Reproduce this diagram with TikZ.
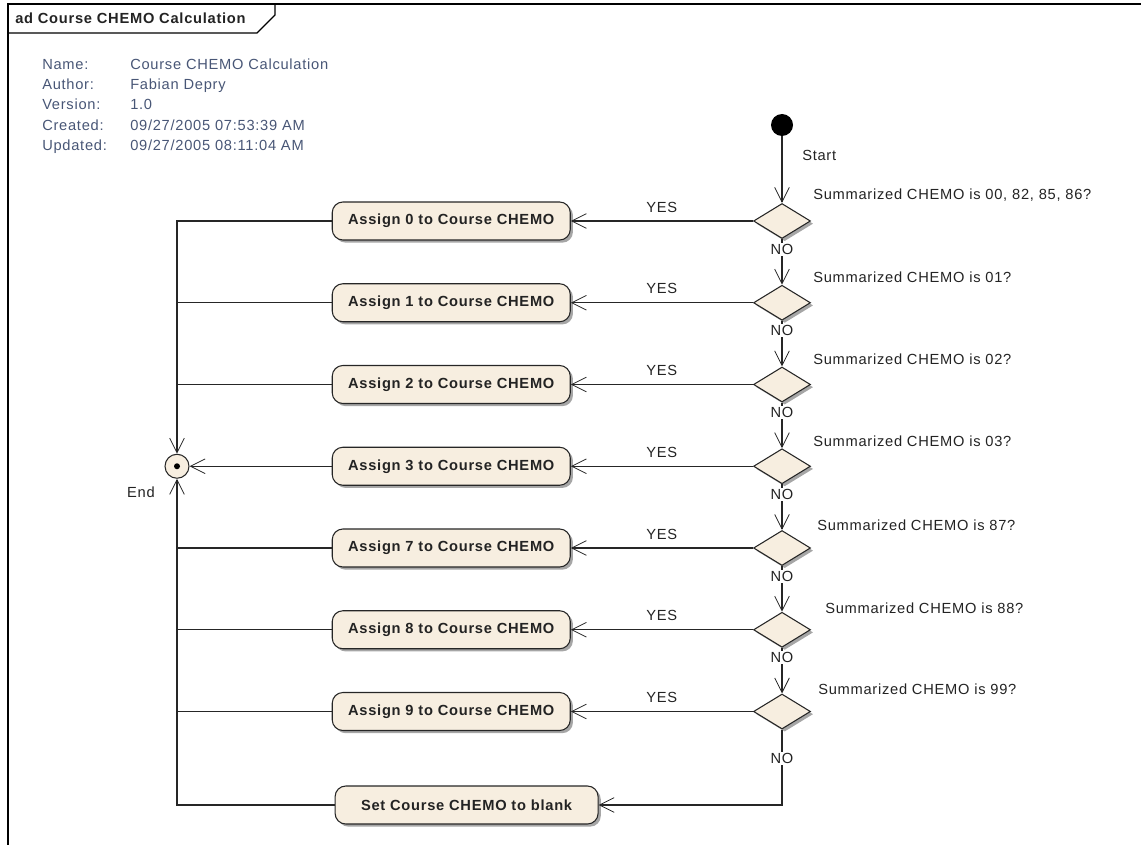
\documentclass[tikz,border=0pt]{standalone}
\usepackage{fontspec}
\setmainfont{Liberation Sans}[LetterSpace=5]
\usetikzlibrary{arrows.meta,shapes.geometric,shadows,calc}
\definecolor{nodefill}{RGB}{247,238,224}
\definecolor{metablue}{RGB}{72,86,118}
\definecolor{txt}{RGB}{35,35,35}
\begin{document}
\begin{tikzpicture}[x=0.75pt,y=-0.75pt,
  every node/.style={font=\fontsize{11pt}{13pt}\selectfont, text=txt},
  flow/.style={draw=black!85, line width=0.9pt},
  arr/.style={flow, -{Straight Barb[length=11pt,width=11pt,line width=0.6pt]}},
  shade/.style={drop shadow={shadow xshift=2pt, shadow yshift=-2pt, fill=black!35, opacity=1}},
  action/.style={draw=black!85, line width=0.8pt, fill=nodefill, rounded corners=8pt,
    minimum width=178.5pt, minimum height=28.5pt, inner sep=0pt,
    font=\fontsize{11pt}{13pt}\selectfont\bfseries, shade},
  decision/.style={diamond, draw=black!85, line width=0.8pt, fill=nodefill,
    minimum width=42.75pt, minimum height=26.25pt, inner sep=0pt, shade},
  lbl/.style={inner sep=0pt, anchor=west},
  meta/.style={inner sep=0pt, anchor=base west, text=metablue},
  nolbl/.style={fill=white, inner sep=1pt},
  yeslbl/.style={midway, yshift=10.5pt, inner sep=0pt},
]
\useasboundingbox (0,0) rectangle (1141,845);
% frame
\draw[line width=1pt] (8,845) -- (8,4) -- (1141,4);
\draw[line width=0.8pt] (8,33) -- (257,33) -- (275,15) -- (275,4);
\node[anchor=west, inner sep=0pt, font=\fontsize{11pt}{13pt}\selectfont\bfseries] (title) at (15,18) {ad Course CHEMO Calculation};
% metadata
\node[meta] (mn1) at (42,69.5) {Name:};
\node[meta] (mn2) at (42,89.7) {Author:};
\node[meta] (mn3) at (42,109.9) {Version:};
\node[meta] (mn4) at (42,130.1) {Created:};
\node[meta] (mn5) at (42,150.3) {Updated:};
\node[meta] (mv1) at (130,69.5) {Course CHEMO Calculation};
\node[meta] (mv2) at (130,89.7) {Fabian Depry};
\node[meta] (mv3) at (130,109.9) {1.0};
\node[meta] (mv4) at (130,130.1) {09/27/2005 07:53:39 AM};
\node[meta] (mv5) at (130,150.3) {09/27/2005 08:11:04 AM};
% start
\node[circle, fill=black, minimum size=16.5pt, inner sep=0pt] (st) at (782,125) {};
\node[lbl] (stl) at (802,155) {Start};
% decisions
\node[decision] (d1) at (782,221) {};
\node[decision] (d2) at (782,302.75) {};
\node[decision] (d3) at (782,384.5) {};
\node[decision] (d4) at (782,466.25) {};
\node[decision] (d5) at (782,548) {};
\node[decision] (d6) at (782,629.75) {};
\node[decision] (d7) at (782,711.5) {};
% condition labels
\node[lbl] (c1) at (813,195) {Summarized CHEMO is 00, 82, 85, 86?};
\node[lbl] (c2) at (813,277) {Summarized CHEMO is 01?};
\node[lbl] (c3) at (813,359) {Summarized CHEMO is 02?};
\node[lbl] (c4) at (813,441) {Summarized CHEMO is 03?};
\node[lbl] (c5) at (817,525) {Summarized CHEMO is 87?};
\node[lbl] (c6) at (825,608) {Summarized CHEMO is 88?};
\node[lbl] (c7) at (818,689) {Summarized CHEMO is 99?};
% actions
\node[action] (a1) at (451.25,221) {Assign 0 to Course CHEMO};
\node[action] (a2) at (451.25,302.75) {Assign 1 to Course CHEMO};
\node[action] (a3) at (451.25,384.5) {Assign 2 to Course CHEMO};
\node[action] (a4) at (451.25,466.25) {Assign 3 to Course CHEMO};
\node[action] (a5) at (451.25,548) {Assign 7 to Course CHEMO};
\node[action] (a6) at (451.25,629.75) {Assign 8 to Course CHEMO};
\node[action] (a7) at (451.25,711.5) {Assign 9 to Course CHEMO};
\node[action, minimum width=197.25pt] (s) at (466.6,805) {Set Course CHEMO to blank};
% end
\node[circle, draw=black!85, line width=0.8pt, fill=nodefill, minimum size=18pt, inner sep=0pt] (e) at (177,466.25) {};
\node[circle, fill=black, minimum size=4.5pt, inner sep=0pt] (edot) at (e.center) {};
\node (endl) at (141,492) {End};
% flow
\draw[arr] (st) -- (d1.north);
\draw[arr] (d1.south) -- node[nolbl, pos=0.22] {NO} (d2.north);
\draw[arr] (d2.south) -- node[nolbl, pos=0.22] {NO} (d3.north);
\draw[arr] (d3.south) -- node[nolbl, pos=0.22] {NO} (d4.north);
\draw[arr] (d4.south) -- node[nolbl, pos=0.22] {NO} (d5.north);
\draw[arr] (d5.south) -- node[nolbl, pos=0.22] {NO} (d6.north);
\draw[arr] (d6.south) -- node[nolbl, pos=0.22] {NO} (d7.north);
\draw[arr] (d7.south) |- node[nolbl, pos=0.19] {NO} (s.east);
\draw[arr] (d1.west) -- node[yeslbl] {YES} (a1.east);
\draw[arr] (d2.west) -- node[yeslbl] {YES} (a2.east);
\draw[arr] (d3.west) -- node[yeslbl] {YES} (a3.east);
\draw[arr] (d4.west) -- node[yeslbl] {YES} (a4.east);
\draw[arr] (d5.west) -- node[yeslbl] {YES} (a5.east);
\draw[arr] (d6.west) -- node[yeslbl] {YES} (a6.east);
\draw[arr] (d7.west) -- node[yeslbl] {YES} (a7.east);
% to end
\draw[arr] (a1.west) -| (e.north);
\draw[flow] (a2.west) -- (a2.west -| e.center);
\draw[flow] (a3.west) -- (a3.west -| e.center);
\draw[arr] (a4.west) -- (e.east);
\draw[flow] (a5.west) -- (a5.west -| e.center);
\draw[flow] (a6.west) -- (a6.west -| e.center);
\draw[flow] (a7.west) -- (a7.west -| e.center);
\draw[arr] (s.west) -| (e.south);
\end{tikzpicture}
\end{document}
